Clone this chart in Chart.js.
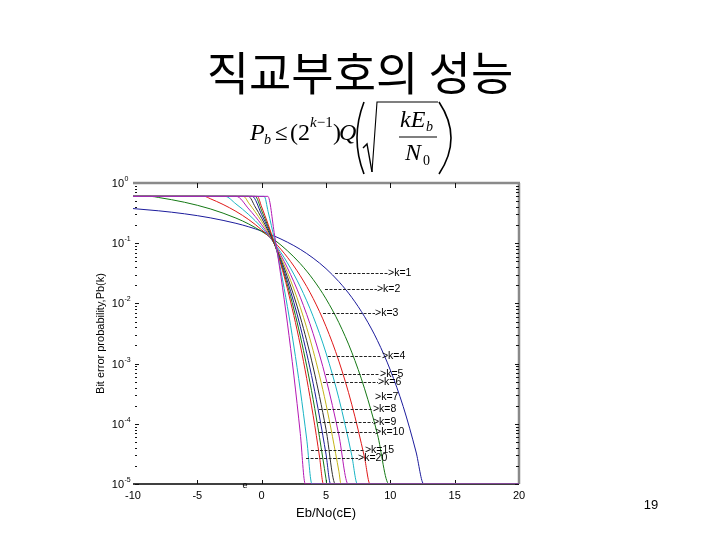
<!DOCTYPE html>
<html><head><meta charset="utf-8">
<script src="https://cdn.jsdelivr.net/npm/chart.js@4.4.0/dist/chart.umd.min.js"></script>
<style>
html,body{margin:0;padding:0;background:#fff;}
#wrap{position:relative;width:720px;height:540px;overflow:hidden;background:#fff;}
#c{position:absolute;left:0;top:0;}
#ov{position:absolute;left:0;top:0;}
</style></head>
<body>
<div id="wrap">
<canvas id="c" width="720" height="540"></canvas>
<svg id="ov" width="720" height="540" xmlns="http://www.w3.org/2000/svg">
  <text x="360" y="90" text-anchor="middle" font-family="Noto Sans CJK KR" font-size="46" fill="#000">직교부호의 성능</text>
  <g font-family="Liberation Serif" fill="#000">
    <text x="250" y="140" font-size="24" font-style="italic">P</text>
    <text x="264" y="144" font-size="14" font-style="italic">b</text>
    <text x="275" y="140" font-size="23">≤</text>
    <text x="290" y="140" font-size="24">(2</text>
    <text x="310" y="127" font-size="15"><tspan font-style="italic">k</tspan>−1</text>
    <text x="333" y="140" font-size="24">)</text>
    <text x="339" y="140" font-size="24" font-style="italic">Q</text>
    <text x="400" y="127" font-size="24" font-style="italic">kE</text>
    <text x="426" y="131" font-size="14" font-style="italic">b</text>
    <text x="405" y="160" font-size="24" font-style="italic">N</text>
    <text x="423" y="165" font-size="14">0</text>
  </g>
  <g stroke="#000" fill="none">
    <path d="M364,102 Q350,138 364,174" stroke-width="1.6"/>
    <path d="M439,102 Q463,138 439,174" stroke-width="1.6"/>
    <path d="M363,148 L367,144 L372,172" stroke-width="1.4"/>
    <path d="M372,172 L377,102 L438,102" stroke-width="1.1"/>
    <path d="M399,137 L437,137" stroke-width="1.1"/>
  </g>
  <text x="651" y="509" text-anchor="middle" font-family="Liberation Sans" font-size="13" fill="#000">19</text>
</svg>
</div>
<script>
// ---- data ----
const kValues = [1, 2, 3, 4, 5, 6, 7, 8, 9, 10, 15, 20];

const ebno_k1 = [-10, -8, -6, -4, -2, -1, 0, 1, 2, 3, 4, 5, 6, 7, 8, 9, 10, 11, 12, 12.6, 20];
const pb_k1   = [0.376, 0.345, 0.308, 0.264, 0.214, 0.187, 0.159, 0.131, 0.104, 0.0791, 0.0566, 0.0378, 0.0230, 0.0126, 0.0060, 0.00241, 7.8e-4, 1.94e-4, 3.4e-5, 1e-5, 1e-5];

const ebno_k2 = [-10, -8.62, -8, -6, -4, -2, -1, 0, 1, 2, 3, 4, 5, 6, 7, 8, 9, 9.89, 20];
const pb_k2   = [0.6, 0.6, 0.574, 0.479, 0.372, 0.2615, 0.208, 0.157, 0.113, 0.075, 0.0458, 0.0250, 0.0119, 0.00479, 0.00155, 3.81e-4, 6.7e-5, 1e-5, 1e-5];

const ebno_k3 = [-10, -4.46, -4, -3, -2, -1, 0, 1, 2, 3, 4, 5, 6, 7, 8, 8.42, 20];
const pb_k3   = [0.6, 0.6, 0.549, 0.440, 0.338, 0.246, 0.1665, 0.1038, 0.0584, 0.0288, 0.0121, 0.00414, 0.00110, 2.11e-4, 2.71e-5, 1e-5, 1e-5];

const ebno_k4 = [-10, -2.85, -2, -1, 0, 1, 2, 3, 4, 5, 6, 7, 7.44, 20];
const pb_k4   = [0.6, 0.6, 0.449, 0.298, 0.182, 0.0991, 0.0472, 0.0189, 0.00609, 0.00150, 2.64e-4, 3.01e-5, 1e-5, 1e-5];

const ebno_k5 = [-10, -1.98, -1, 0, 1, 2, 3, 4, 5, 6, 6.72, 20];
const pb_k5   = [0.6, 0.6, 0.370, 0.2023, 0.0968, 0.0390, 0.01268, 0.00315, 5.6e-4, 6.5e-5, 1e-5, 1e-5];

const ebno_k6 = [-10, -1.42, -1, 0, 1, 2, 3, 4, 5, 6, 6.17, 20];
const pb_k6   = [0.6, 0.6, 0.464, 0.229, 0.0957, 0.0327, 0.00863, 0.00165, 2.12e-4, 1.63e-5, 1e-5, 1e-5];

const ebno_k7 = [-10, -1.03, -0.5, 0, 1, 2, 3, 4, 5, 5.73, 20];
const pb_k7   = [0.6, 0.6, 0.400, 0.260, 0.0957, 0.0277, 0.00594, 8.77e-4, 8.11e-5, 1e-5, 1e-5];

const ebno_k8 = [-10, -0.74, 0, 0.5, 1, 2, 3, 4, 5, 5.36, 20];
const pb_k8   = [0.6, 0.6, 0.299, 0.175, 0.0962, 0.0236, 0.00414, 4.71e-4, 3.14e-5, 1e-5, 1e-5];

const ebno_k9 = [-10, -0.51, 0, 0.5, 1, 2, 3, 4, 5, 5.06, 20];
const pb_k9   = [0.6, 0.6, 0.345, 0.190, 0.0975, 0.0203, 0.00288, 2.54e-4, 1.22e-5, 1e-5, 1e-5];

const ebno_k10 = [-10, -0.34, 0, 0.5, 1, 1.5, 2, 3, 4, 4.5, 4.8, 20];
const pb_k10   = [0.6, 0.6, 0.400, 0.2065, 0.0991, 0.0438, 0.01754, 0.00203, 1.38e-4, 2.8e-5, 1e-5, 1e-5];

const ebno_k15 = [-10, 0.20, 0.5, 1, 1.5, 2, 2.5, 3, 3.5, 3.91, 20];
const pb_k15   = [0.6, 0.6, 0.335, 0.1135, 0.0340, 0.00886, 0.00196, 3.65e-4, 5.6e-5, 1e-5, 1e-5];

const ebno_k20 = [-10, 0.48, 1, 1.5, 2, 2.5, 3, 3.39, 20];
const pb_k20   = [0.6, 0.6, 0.137, 0.0278, 0.00471, 6.44e-4, 6.95e-5, 1e-5, 1e-5];

const xTickValues = [-10, -5, 0, 5, 10, 15, 20];
const yDecadeExponents = [0, -1, -2, -3, -4, -5];

// text annotations "------>k=N" (data coordinates)
const annLabels = ['k=1', 'k=2', 'k=3', 'k=4', 'k=5', 'k=6', 'k=7', 'k=8', 'k=9', 'k=10', 'k=15', 'k=20'];
const annDashFrom = [5.70, 4.92, 4.77, 5.15, 5.00, 4.77, null, 4.46, 4.38, 4.46, 3.83, 3.45];
const annDashTo   = [9.82, 8.96, 8.81, 9.35, 9.20, 9.04, 8.81, 8.65, 8.65, 8.81, 8.03, 7.49];
const annPb       = [0.032, 0.0173, 0.00693, 0.00134, 6.7e-4, 4.9e-4, 2.79e-4, 1.76e-4, 1.07e-4, 7.3e-5, 3.67e-5, 2.7e-5];

// ---- styling ----
const lineColors = ['#1c1c9c', '#147814', '#e01818', '#18b4c4', '#b418b4', '#c4b418', '#303030',
                    '#1c1c9c', '#147814', '#e01818', '#18b4c4', '#b418b4'];

const seriesX = [ebno_k1, ebno_k2, ebno_k3, ebno_k4, ebno_k5, ebno_k6, ebno_k7, ebno_k8, ebno_k9, ebno_k10, ebno_k15, ebno_k20];
const seriesY = [pb_k1, pb_k2, pb_k3, pb_k4, pb_k5, pb_k6, pb_k7, pb_k8, pb_k9, pb_k10, pb_k15, pb_k20];

const datasets = kValues.map((k, i) => ({
  label: 'k=' + k,
  data: seriesX[i].map((xv, j) => ({x: xv, y: seriesY[i][j]})),
  borderColor: lineColors[i],
  backgroundColor: lineColors[i],
  borderWidth: 1,
  pointRadius: 0,
  fill: false,
  cubicInterpolationMode: 'monotone',
  order: kValues.length - i
}));

const framePlugin = {
  id: 'frame',
  beforeDatasetsDraw(chart) {
    const {ctx, chartArea: a, scales: {x, y}} = chart;
    ctx.save();
    ctx.strokeStyle = '#8a8a8a';
    ctx.lineWidth = 2.5;
    ctx.beginPath();
    ctx.moveTo(a.left, a.top); ctx.lineTo(a.right + 1, a.top);
    ctx.moveTo(a.right, a.top); ctx.lineTo(a.right, a.bottom);
    ctx.stroke();
    ctx.strokeStyle = '#000';
    ctx.lineWidth = 1.5;
    ctx.beginPath();
    ctx.moveTo(a.left, a.bottom); ctx.lineTo(a.right, a.bottom);
    ctx.stroke();
    ctx.lineWidth = 1;
    ctx.strokeStyle = '#111';
    ctx.beginPath();
    xTickValues.forEach(v => {
      const px = Math.round(x.getPixelForValue(v)) + 0.5;
      if (v > -10 && v < 20) {
        ctx.moveTo(px, a.top); ctx.lineTo(px, a.top + 5);
        ctx.moveTo(px, a.bottom); ctx.lineTo(px, a.bottom - 4);
      }
    });
    ctx.stroke();
    ctx.beginPath();
    for (let d = -5; d < 0; d++) {
      for (let m = 1; m <= 9; m++) {
        const py = Math.round(y.getPixelForValue(m * Math.pow(10, d))) + 0.5;
        const len = m === 1 ? 4 : 2;
        ctx.moveTo(a.left + 2, py); ctx.lineTo(a.left + 2 + len, py);
        ctx.moveTo(a.right, py); ctx.lineTo(a.right - (m === 1 ? 4 : 3), py);
      }
    }
    ctx.stroke();
    ctx.fillStyle = '#000';
    yDecadeExponents.forEach(e => {
      const py = y.getPixelForValue(Math.pow(10, e));
      ctx.font = '11px "Liberation Sans"';
      ctx.textAlign = 'right';
      ctx.textBaseline = 'alphabetic';
      ctx.fillText('10', 124, py + 4);
      ctx.font = '7px "Liberation Sans"';
      ctx.textAlign = 'left';
      ctx.fillText(String(e), 124.5, py - 2);
    });
    ctx.font = '9px "Liberation Sans"';
    ctx.textAlign = 'center';
    ctx.fillText('e', 245, 488);
    ctx.restore();
  },
  afterDatasetsDraw(chart) {
    const {ctx, scales: {x, y}} = chart;
    ctx.save();
    ctx.font = '10.5px "Liberation Sans"';
    ctx.textBaseline = 'middle';
    ctx.textAlign = 'left';
    ctx.fillStyle = '#000';
    annLabels.forEach((lab, i) => {
      const py = Math.round(y.getPixelForValue(annPb[i])) + 0.5;
      const x2 = x.getPixelForValue(annDashTo[i]);
      if (annDashFrom[i] !== null) {
        ctx.strokeStyle = '#222';
        ctx.lineWidth = 1;
        ctx.setLineDash([3, 1.5]);
        ctx.beginPath();
        ctx.moveTo(x.getPixelForValue(annDashFrom[i]), py);
        ctx.lineTo(x2, py);
        ctx.stroke();
      }
      ctx.fillText('>' + lab, x2, py);
    });
    ctx.restore();
  }
};

new Chart(document.getElementById('c'), {
  type: 'line',
  data: {datasets},
  options: {
    responsive: false,
    animation: false,
    events: [],
    layout: {padding: {left: 93, right: 201, top: 183, bottom: 16}},
    plugins: {legend: {display: false}, tooltip: {enabled: false}},
    scales: {
      x: {
        type: 'linear', min: -10, max: 20,
        grid: {display: false, drawTicks: false},
        border: {display: false},
        ticks: {stepSize: 5, autoSkip: false, maxRotation: 0, padding: 5, color: '#000',
                font: {family: 'Liberation Sans', size: 11}},
        title: {display: true, text: 'Eb/No(cE)', color: '#000',
                font: {family: 'Liberation Sans', size: 13}, padding: {top: 0, bottom: 3}},
        afterFit(s) { s.height = 40; }
      },
      y: {
        type: 'logarithmic', min: 1e-5, max: 1,
        grid: {display: false, drawTicks: false},
        border: {display: false},
        ticks: {display: false},
        title: {display: true, text: 'Bit error probability,Pb(k)', color: '#000',
                font: {family: 'Liberation Sans', size: 11}, padding: {top: 1, bottom: 0}},
        afterFit(s) { s.width = 40; }
      }
    }
  },
  plugins: [framePlugin]
});
</script>
</body></html>
